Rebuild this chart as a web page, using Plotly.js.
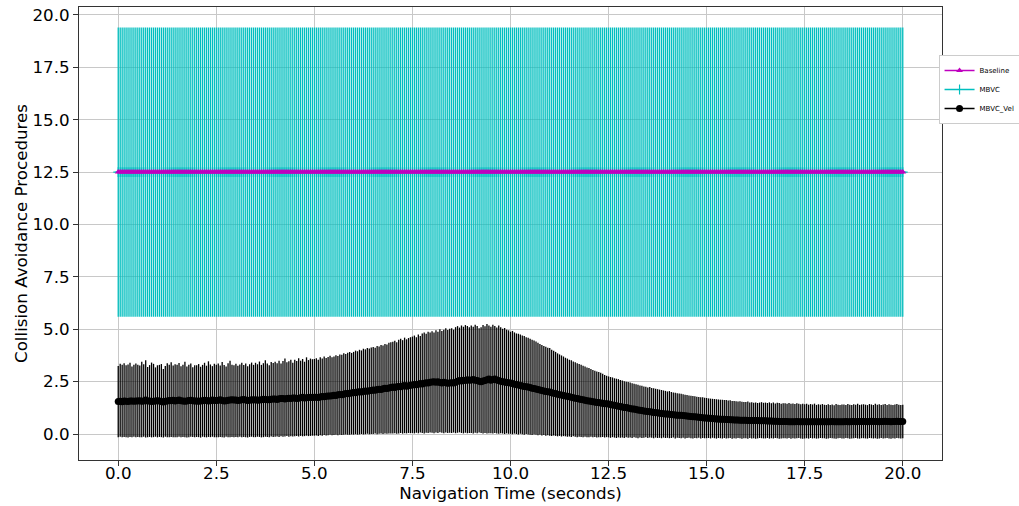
<!DOCTYPE html>
<html>
<head>
<meta charset="utf-8">
<script src="https://cdn.plot.ly/plotly-3.0.1.min.js"></script>
<style>
html,body{margin:0;padding:0;background:#fff;}
#chart{width:1019px;height:506px;}
</style>
</head>
<body>
<div id="chart"></div>
<script>
// Time axis: 0 to 20 s, sampled every 0.05 s (401 samples)
const timeStep = 0.05;
const sampleCount = 401;

// Baseline (constant) and MBVC (constant mean with constant spread)
const baselineValue = 12.5;
const mbvcMeanValue = 12.5;
const mbvcSpread = 6.9;

// MBVC_Vel mean values (one per sample)
const velMean = [
1.55,1.56,1.54,1.57,1.56,1.55,1.58,1.57,1.56,1.58,
1.57,1.59,1.56,1.58,1.62,1.58,1.57,1.55,1.56,1.58,
1.59,1.57,1.55,1.53,1.56,1.58,1.60,1.59,1.61,1.58,
1.60,1.62,1.59,1.57,1.56,1.58,1.60,1.61,1.59,1.57,
1.58,1.56,1.57,1.59,1.61,1.60,1.58,1.59,1.62,1.60,
1.60,1.61,1.63,1.60,1.58,1.59,1.61,1.62,1.64,1.62,
1.62,1.60,1.61,1.63,1.65,1.62,1.60,1.61,1.63,1.62,
1.63,1.61,1.62,1.64,1.66,1.65,1.63,1.64,1.66,1.67,
1.67,1.65,1.68,1.70,1.69,1.67,1.69,1.71,1.70,1.72,
1.72,1.70,1.71,1.73,1.75,1.72,1.73,1.74,1.76,1.74,
1.75,1.76,1.74,1.77,1.79,1.78,1.80,1.82,1.81,1.83,
1.85,1.84,1.87,1.89,1.88,1.90,1.93,1.92,1.95,1.96,
1.98,1.97,2.00,2.02,2.01,2.03,2.05,2.04,2.07,2.08,
2.10,2.09,2.12,2.14,2.13,2.16,2.18,2.17,2.20,2.22,
2.24,2.22,2.25,2.27,2.26,2.29,2.31,2.28,2.30,2.33,
2.34,2.36,2.35,2.38,2.41,2.39,2.42,2.45,2.44,2.47,
2.48,2.50,2.47,2.49,2.46,2.44,2.47,2.45,2.42,2.44,
2.45,2.43,2.47,2.52,2.55,2.53,2.57,2.56,2.59,2.57,
2.58,2.60,2.57,2.55,2.52,2.50,2.53,2.56,2.59,2.62,
2.57,2.60,2.62,2.58,2.55,2.52,2.50,2.48,2.46,2.45,
2.43,2.41,2.38,2.36,2.34,2.31,2.29,2.27,2.26,2.24,
2.22,2.19,2.17,2.15,2.12,2.10,2.08,2.05,2.03,2.02,
2.00,1.97,1.95,1.93,1.90,1.88,1.86,1.84,1.82,1.80,
1.78,1.76,1.73,1.71,1.69,1.67,1.65,1.63,1.61,1.59,
1.57,1.56,1.54,1.53,1.51,1.50,1.48,1.47,1.45,1.44,
1.43,1.41,1.39,1.37,1.35,1.33,1.31,1.29,1.27,1.26,
1.24,1.22,1.20,1.19,1.17,1.15,1.13,1.12,1.10,1.09,
1.07,1.06,1.05,1.03,1.02,1.01,0.99,0.98,0.97,0.96,
0.95,0.94,0.93,0.92,0.91,0.90,0.90,0.89,0.88,0.87,
0.86,0.85,0.84,0.83,0.82,0.81,0.80,0.79,0.78,0.77,
0.76,0.75,0.75,0.74,0.73,0.72,0.72,0.71,0.70,0.70,
0.69,0.69,0.68,0.68,0.67,0.67,0.67,0.66,0.66,0.66,
0.66,0.65,0.65,0.65,0.64,0.64,0.64,0.63,0.63,0.63,
0.63,0.62,0.62,0.62,0.61,0.61,0.61,0.60,0.60,0.60,
0.60,0.60,0.59,0.59,0.59,0.59,0.60,0.59,0.59,0.59,
0.59,0.58,0.58,0.59,0.59,0.58,0.58,0.59,0.59,0.59,
0.59,0.59,0.58,0.59,0.60,0.59,0.59,0.58,0.59,0.59,
0.59,0.60,0.59,0.59,0.60,0.60,0.59,0.60,0.60,0.60,
0.60,0.60,0.59,0.60,0.61,0.60,0.60,0.60,0.59,0.60,
0.60,0.61,0.60,0.60,0.59,0.60,0.60,0.61,0.60,0.60,
0.60];

// MBVC_Vel upper end of spread
const velUpper = [
3.25,3.35,3.30,3.38,3.28,3.32,3.40,3.22,3.31,3.36,
3.30,3.27,3.45,3.33,3.52,3.20,3.29,3.41,3.35,3.18,
3.28,3.30,3.34,3.10,3.25,3.38,3.30,3.42,3.27,3.33,
3.30,3.39,3.24,3.31,3.45,3.22,3.30,3.36,3.19,3.28,
3.28,3.34,3.21,3.30,3.40,3.26,3.47,3.32,3.24,3.35,
3.30,3.36,3.27,3.44,3.29,3.22,3.38,3.50,3.31,3.28,
3.35,3.26,3.32,3.40,3.29,3.37,3.24,3.33,3.41,3.30,
3.40,3.33,3.46,3.30,3.38,3.52,3.36,3.28,3.44,3.39,
3.45,3.38,3.50,3.36,3.48,3.60,3.42,3.47,3.55,3.40,
3.55,3.48,3.62,3.50,3.58,3.45,3.66,3.53,3.60,3.57,
3.58,3.62,3.55,3.66,3.60,3.70,3.63,3.68,3.74,3.66,
3.70,3.76,3.72,3.80,3.78,3.85,3.82,3.88,3.92,3.87,
3.92,3.98,3.95,4.02,3.99,4.07,4.04,4.10,4.08,4.13,
4.15,4.12,4.20,4.18,4.25,4.22,4.30,4.27,4.35,4.38,
4.40,4.45,4.38,4.50,4.55,4.48,4.60,4.52,4.58,4.62,
4.65,4.70,4.62,4.75,4.68,4.80,4.85,4.78,4.88,4.84,
4.90,4.85,4.95,4.88,5.00,4.92,4.98,5.05,4.96,5.02,
5.05,4.98,5.10,5.15,5.08,5.18,5.12,5.20,5.15,5.10,
5.18,5.12,5.22,5.16,5.05,5.10,5.20,5.14,5.25,5.18,
5.12,5.22,5.15,5.08,5.18,5.10,5.02,5.06,4.98,4.95,
4.88,4.92,4.85,4.80,4.78,4.75,4.70,4.68,4.62,4.60,
4.55,4.50,4.46,4.42,4.36,4.30,4.25,4.20,4.16,4.12,
4.10,4.02,3.98,3.92,3.85,3.80,3.75,3.70,3.64,3.60,
3.55,3.52,3.46,3.42,3.38,3.34,3.30,3.26,3.22,3.18,
3.15,3.10,3.06,3.02,2.98,2.96,2.92,2.88,2.82,2.78,
2.75,2.72,2.70,2.66,2.64,2.62,2.58,2.55,2.52,2.50,
2.48,2.46,2.42,2.40,2.38,2.35,2.32,2.30,2.27,2.25,
2.22,2.24,2.20,2.18,2.16,2.14,2.12,2.10,2.08,2.06,
2.03,2.05,2.00,1.98,1.97,1.95,1.93,1.92,1.90,1.88,
1.86,1.84,1.83,1.82,1.80,1.78,1.77,1.76,1.75,1.73,
1.72,1.70,1.69,1.68,1.67,1.66,1.65,1.64,1.63,1.62,
1.62,1.60,1.61,1.58,1.57,1.56,1.55,1.56,1.54,1.53,
1.53,1.55,1.50,1.52,1.49,1.51,1.48,1.50,1.52,1.49,
1.50,1.48,1.51,1.47,1.50,1.46,1.49,1.48,1.45,1.47,
1.47,1.45,1.48,1.44,1.46,1.43,1.47,1.45,1.42,1.44,
1.42,1.44,1.40,1.43,1.41,1.45,1.39,1.42,1.40,1.43,
1.40,1.38,1.42,1.39,1.41,1.37,1.43,1.40,1.38,1.41,
1.41,1.39,1.43,1.40,1.38,1.42,1.40,1.44,1.39,1.41,
1.42,1.40,1.38,1.43,1.41,1.39,1.44,1.40,1.42,1.38,
1.41,1.43,1.39,1.42,1.40,1.38,1.41,1.43,1.40,1.39,
1.40];

// MBVC_Vel lower end of spread
const velLower = [
-0.15,-0.13,-0.16,-0.14,-0.15,-0.17,-0.14,-0.15,-0.13,-0.16,
-0.14,-0.16,-0.15,-0.13,-0.17,-0.15,-0.14,-0.16,-0.15,-0.13,
-0.16,-0.14,-0.15,-0.17,-0.13,-0.15,-0.16,-0.14,-0.15,-0.16,
-0.15,-0.13,-0.16,-0.14,-0.15,-0.17,-0.15,-0.13,-0.14,-0.16,
-0.14,-0.15,-0.17,-0.13,-0.15,-0.16,-0.14,-0.15,-0.13,-0.15,
-0.15,-0.16,-0.14,-0.15,-0.17,-0.13,-0.15,-0.16,-0.14,-0.15,
-0.14,-0.15,-0.13,-0.16,-0.14,-0.15,-0.17,-0.14,-0.13,-0.15,
-0.15,-0.13,-0.14,-0.16,-0.15,-0.13,-0.14,-0.15,-0.12,-0.14,
-0.13,-0.12,-0.14,-0.11,-0.13,-0.12,-0.10,-0.13,-0.11,-0.12,
-0.11,-0.10,-0.12,-0.09,-0.11,-0.10,-0.08,-0.10,-0.09,-0.08,
-0.08,-0.07,-0.09,-0.06,-0.08,-0.05,-0.07,-0.06,-0.04,-0.06,
-0.05,-0.04,-0.06,-0.03,-0.05,-0.04,-0.02,-0.04,-0.03,-0.02,
-0.03,-0.01,-0.03,-0.02,0.00,-0.02,-0.01,0.01,-0.01,0.00,
0.00,0.02,-0.01,0.01,0.03,0.00,0.02,0.01,0.03,0.02,
0.02,0.04,0.01,0.03,0.05,0.02,0.04,0.03,0.05,0.04,
0.05,0.03,0.06,0.04,0.07,0.05,0.03,0.06,0.05,0.07,
0.06,0.04,0.07,0.05,0.08,0.06,0.04,0.07,0.05,0.06,
0.05,0.07,0.04,0.06,0.08,0.05,0.03,0.06,0.04,0.05,
0.05,0.03,0.06,0.04,0.07,0.05,0.03,0.05,0.02,0.04,
0.04,0.02,0.05,0.03,0.01,0.04,0.02,0.00,0.03,0.01,
0.01,-0.01,0.02,0.00,-0.02,0.01,-0.01,-0.03,0.00,-0.02,
-0.03,-0.05,-0.02,-0.04,-0.06,-0.04,-0.07,-0.05,-0.08,-0.06,
-0.08,-0.10,-0.07,-0.09,-0.11,-0.09,-0.12,-0.10,-0.11,-0.13,
-0.12,-0.14,-0.11,-0.13,-0.15,-0.13,-0.14,-0.16,-0.13,-0.15,
-0.15,-0.13,-0.16,-0.14,-0.17,-0.15,-0.16,-0.14,-0.17,-0.15,
-0.16,-0.18,-0.15,-0.17,-0.19,-0.16,-0.18,-0.17,-0.19,-0.16,
-0.18,-0.17,-0.19,-0.16,-0.18,-0.20,-0.17,-0.19,-0.18,-0.16,
-0.19,-0.17,-0.18,-0.20,-0.17,-0.19,-0.18,-0.20,-0.17,-0.19,
-0.18,-0.20,-0.19,-0.17,-0.21,-0.18,-0.19,-0.20,-0.18,-0.21,
-0.19,-0.18,-0.20,-0.21,-0.19,-0.20,-0.18,-0.21,-0.19,-0.20,
-0.20,-0.19,-0.21,-0.18,-0.20,-0.22,-0.19,-0.20,-0.21,-0.19,
-0.21,-0.20,-0.19,-0.22,-0.20,-0.21,-0.19,-0.20,-0.22,-0.20,
-0.20,-0.22,-0.19,-0.21,-0.20,-0.22,-0.21,-0.19,-0.20,-0.21,
-0.21,-0.19,-0.22,-0.20,-0.21,-0.19,-0.20,-0.22,-0.21,-0.20,
-0.20,-0.21,-0.19,-0.22,-0.20,-0.21,-0.20,-0.19,-0.21,-0.22,
-0.21,-0.20,-0.22,-0.19,-0.21,-0.20,-0.22,-0.21,-0.19,-0.20,
-0.20,-0.22,-0.21,-0.19,-0.20,-0.21,-0.22,-0.20,-0.19,-0.21,
-0.21,-0.19,-0.20,-0.22,-0.21,-0.20,-0.19,-0.21,-0.22,-0.20,
-0.20,-0.21,-0.22,-0.19,-0.20,-0.21,-0.20,-0.22,-0.21,-0.19,
-0.21,-0.20,-0.19,-0.21,-0.22,-0.20,-0.21,-0.19,-0.20,-0.21,
-0.20];

// Axis tick values / labels
const tickVals = [0, 2.5, 5, 7.5, 10, 12.5, 15, 17.5, 20];
const tickText = ['0.0','2.5','5.0','7.5','10.0','12.5','15.0','17.5','20.0'];

// ---- build traces ----
const timeSec = [];
for (let i = 0; i < sampleCount; i++) timeSec.push(+(i * timeStep).toFixed(2));
const baselineY = timeSec.map(() => baselineValue);
const mbvcY = timeSec.map(() => mbvcMeanValue);
const mbvcErr = timeSec.map(() => mbvcSpread);
const velErrPlus = velUpper.map((u, i) => +(u - velMean[i]).toFixed(3));
const velErrMinus = velLower.map((l, i) => +(velMean[i] - l).toFixed(3));

const traceMBVC = {
  x: timeSec, y: mbvcY, name: 'MBVC', type: 'scatter', mode: 'lines+markers',
  legendrank: 2,
  line: {color: '#00bfbf', width: 1.5},
  marker: {symbol: 'cross-thin-open', size: 7, color: '#00bfbf', line: {color: '#00bfbf', width: 1.2}},
  error_y: {type: 'data', array: mbvcErr, visible: true, color: '#00bfbf', thickness: 1.3, width: 0}
};
const traceBaseline = {
  x: timeSec, y: baselineY, name: 'Baseline', type: 'scatter', mode: 'lines+markers',
  legendrank: 1,
  line: {color: '#bf00bf', width: 1.5},
  marker: {symbol: 'triangle-up', size: 6, color: '#bf00bf'}
};
const traceVel = {
  x: timeSec, y: velMean, name: 'MBVC_Vel', type: 'scatter', mode: 'lines+markers',
  legendrank: 3,
  line: {color: '#000000', width: 1.5},
  marker: {symbol: 'circle', size: 7, color: '#000000'},
  error_y: {type: 'data', symmetric: false, array: velErrPlus, arrayminus: velErrMinus,
            visible: true, color: '#000000', thickness: 1.3, width: 0}
};

const fontFamily = 'DejaVu Sans, sans-serif';
const axisCommon = {
  showline: true, mirror: true, linecolor: '#333333', linewidth: 1,
  ticks: 'outside', ticklen: 5, tickwidth: 1, tickcolor: '#333333',
  showgrid: true, gridcolor: '#c8c8c8', gridwidth: 1,
  zeroline: false,
  tickmode: 'array', tickvals: tickVals, ticktext: tickText,
  tickfont: {family: fontFamily, size: 16.7, color: '#000'}
};

const layout = {
  width: 1019, height: 506,
  margin: {l: 79, r: 77, t: 7, b: 46, autoexpand: false},
  paper_bgcolor: '#ffffff', plot_bgcolor: '#ffffff',
  showlegend: true,
  legend: {
    x: 0.996, y: 0.894, xanchor: 'left', yanchor: 'top',
    bgcolor: '#ffffff', bordercolor: '#cccccc', borderwidth: 1,
    font: {family: fontFamily, size: 7, color: '#000'},
    itemwidth: 30, tracegroupgap: 0
  },
  xaxis: Object.assign({}, axisCommon, {
    range: [-1, 21],
    ticklabelstandoff: -7,
    title: {text: 'Navigation Time (seconds)', font: {family: fontFamily, size: 16.7, color: '#000'}, standoff: 2}
  }),
  yaxis: Object.assign({}, axisCommon, {
    range: [-1.24, 20.38],
    title: {text: 'Collision Avoidance Procedures', font: {family: fontFamily, size: 16.7, color: '#000'}, standoff: 0}
  })
};

Plotly.newPlot('chart', [traceMBVC, traceBaseline, traceVel], layout, {staticPlot: true, displayModeBar: false});
</script>
</body>
</html>
